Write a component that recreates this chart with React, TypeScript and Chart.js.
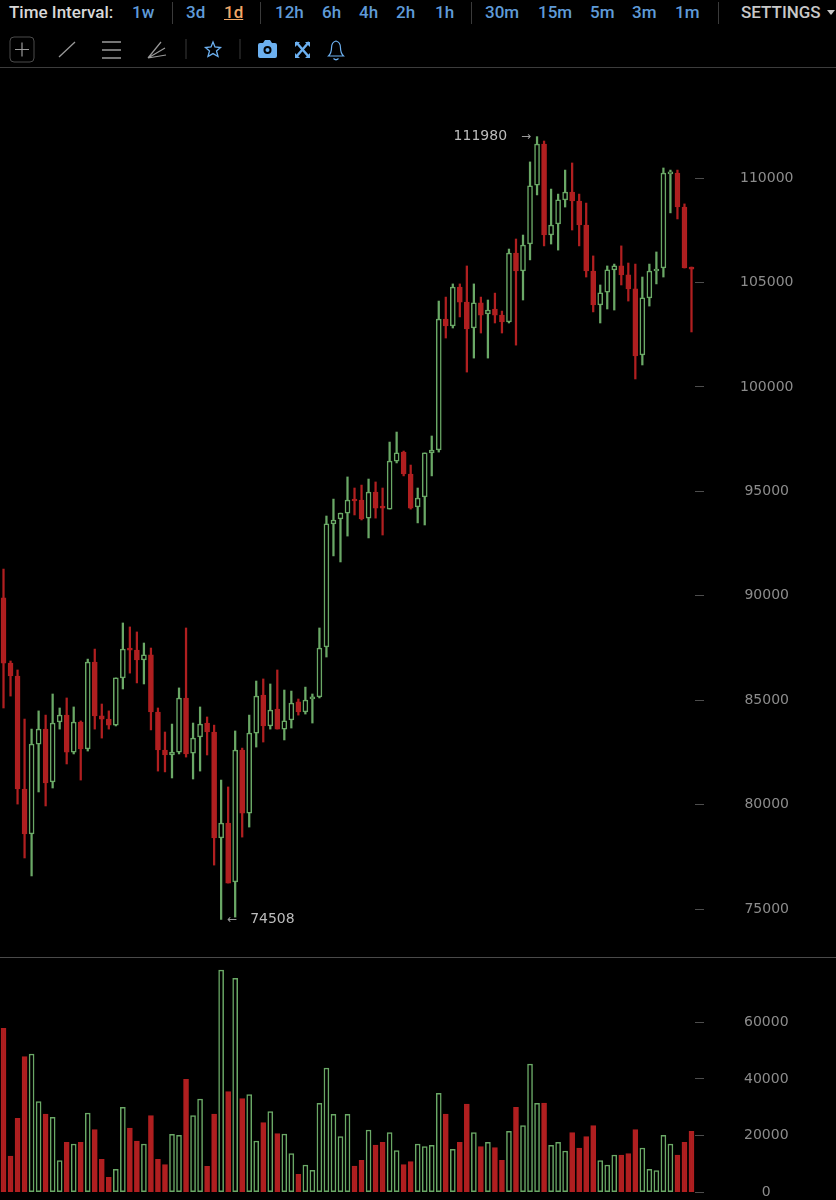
import { useEffect, useRef } from 'react';
import { Chart, registerables } from 'chart.js';

Chart.register(...registerables);

const opens = [89900,86780,86160,80750,78600,82900,83620,81090,83960,84290,82520,83960,82670,86830,84250,84100,83810,86070,87450,87400,86930,87170,84440,82620,82380,82520,85110,82470,83240,83910,83480,78410,79120,76300,82620,79600,83430,85250,83770,84580,83620,84060,84920,84440,85060,85160,87550,93440,93680,93960,94580,94580,93720,94970,94250,94150,96450,96880,95830,94250,94730,96840,96980,103250,102920,104780,104060,102820,104020,103490,103730,103440,103110,106410,105550,106840,109660,111630,107270,107800,108950,109330,108900,107750,105550,103920,104540,105600,105790,105360,104690,101530,104260,105550,105690,110200,110240,108610,105690];
const highs = [91280,86880,86450,84100,83620,84490,84290,85300,84630,85110,84680,84010,86970,87450,84820,84490,86070,88700,88510,88270,87740,87500,84630,83480,83860,85590,88460,83910,84680,84200,83810,81180,80850,83530,82710,84290,85920,86020,85780,86450,85490,85440,85060,85630,85300,88460,93820,94630,93960,95690,95160,95300,95590,95450,95160,97360,97840,96930,96260,95160,96840,97650,104110,104300,104930,104930,105790,104930,104300,104160,104490,103630,106600,107080,107270,110770,111980,111770,109470,109230,110380,110720,109230,108800,106270,104880,105790,105880,106750,105930,105880,105260,105880,106460,110480,110380,110380,108760,105740];
const lows = [84630,85200,80030,77450,76590,80610,79940,80800,83620,81950,82430,81180,82570,83620,83190,83620,83770,85540,86300,85830,85780,83580,81610,81570,81280,82430,82280,81230,81610,82380,77110,74508,76250,74620,78450,78930,82760,83000,83620,83620,83100,83670,84290,84340,83910,85110,87070,91910,91620,92860,93870,93630,92770,93720,92910,94150,96360,95740,94150,93490,93390,95740,96880,102340,102820,103350,100710,101380,102580,101380,103060,102580,103060,102000,104160,106080,109190,106750,106840,106550,108610,107510,106750,105260,103590,103060,103730,103680,104880,104110,100380,101050,103870,104930,105260,108330,108040,105690,102630];
const closes = [86780,86160,80750,78600,82900,83620,81040,83910,84290,82520,83960,82670,86830,84250,84100,83810,86070,87450,87400,86930,87170,84440,82620,82380,82520,85110,82430,83190,83860,83480,78410,79120,76250,82620,79600,83430,85200,83770,84530,83620,84010,84870,84440,85010,85160,87500,93440,93630,93960,94580,94540,93680,94970,94200,94200,96450,96840,95830,94200,94680,96840,96980,103250,102920,104780,104060,102770,104020,103440,103680,103440,103110,106410,105550,106790,109620,111630,107270,107750,108950,109330,108900,107750,105550,103920,104500,105600,105790,105360,104690,101480,104260,105550,105640,110240,110240,108610,105690,105640];
const volumes = [57860,12820,26100,47860,48800,31990,27640,26460,11170,17640,17050,17640,27990,22110,11640,5290,8110,29990,22700,18110,17050,27050,11640,9760,20460,20110,39870,27050,32930,9170,27640,78440,35520,75500,33050,34460,18110,24580,28460,20700,20580,13640,6350,9640,7760,31400,43860,27520,19640,27520,9290,11290,21990,16700,17640,21050,14700,9760,10820,17050,16110,16580,34930,27640,15170,17640,31160,21050,16110,17640,15760,11290,21520,29990,23520,45280,31400,31520,16580,17640,14580,21050,15640,19640,23520,11170,9640,13170,13170,13640,22110,15640,8110,7640,20110,17050,13170,17640,21520];

const priceTicks = [75000, 80000, 85000, 90000, 95000, 100000, 105000, 110000];
const volumeTicks = [0, 20000, 40000, 60000];
const highLabel = 111980;
const lowLabel = 74508;

const intervals = [
  { text: '1w', x: 132 },
  { text: '3d', x: 186 },
  { text: '1d', x: 224, active: true },
  { text: '12h', x: 275 },
  { text: '6h', x: 322 },
  { text: '4h', x: 359 },
  { text: '2h', x: 396 },
  { text: '1h', x: 435 },
  { text: '30m', x: 485 },
  { text: '15m', x: 538 },
  { text: '5m', x: 590 },
  { text: '3m', x: 632 },
  { text: '1m', x: 675 },
];
const dividers = [172, 260, 471, 718];

const UP = '#6aa866';
const DOWN = '#b01f20';
const AXIS_WIDTH = 141;
const TICK_COLOR = '#4d4d4d';
const LABEL_COLOR = '#8c8c8c';
const LABEL_FONT = { family: '"DejaVu Sans"', size: 14 };

const days = opens.map((_, i) => String(i));
const isUp = closes.map((c, i) => c >= opens[i]);

// the axis labels must not push the plot area in, both panels share one x layout
const fitAxis = (scale: any) => {
  scale.width = AXIS_WIDTH;
  scale.paddingTop = 0;
  scale.paddingBottom = 0;
};

const extremesPlugin = {
  id: 'extremes',
  afterDatasetsDraw(chart: any) {
    const { ctx, scales } = chart;
    ctx.save();
    ctx.fillStyle = '#bcbcbc';
    ctx.font = '14px "DejaVu Sans"';
    ctx.textBaseline = 'middle';
    const hiY = scales.y.getPixelForValue(highLabel);
    const loY = scales.y.getPixelForValue(lowLabel);
    const hiX = scales.x.getPixelForValue(76);
    const loX = scales.x.getPixelForValue(31);
    ctx.textAlign = 'right';
    ctx.fillText(String(highLabel), hiX - 30, hiY);
    ctx.font = '12px "DejaVu Sans"';
    ctx.fillStyle = '#9a9a9a';
    ctx.fillText('\u2192', hiX - 6, hiY);
    ctx.textAlign = 'left';
    ctx.fillText('\u2190', loX + 6, loY);
    ctx.font = '14px "DejaVu Sans"';
    ctx.fillStyle = '#bcbcbc';
    ctx.fillText(String(lowLabel), loX + 29, loY);
    ctx.restore();
  },
};

function Header() {
  const blue = '#6cb0f0';
  const grey = '#9a9a9a';
  return (
    <div style={{ position: 'absolute', left: 0, top: 0, width: 836, height: 68, borderBottom: '1px solid #3c3c3c', boxSizing: 'border-box', fontFamily: 'Roboto', fontSize: 17, fontWeight: 500 }}>
      <span style={{ position: 'absolute', left: 9, top: 2, color: '#d8d8d8', lineHeight: '20px' }}>Time Interval:</span>
      {intervals.map((it) => (
        <span
          key={it.text}
          style={{
            position: 'absolute',
            left: it.x,
            top: 2,
            lineHeight: '20px',
            color: it.active ? '#f0a868' : '#5f9bd8',
            textDecoration: it.active ? 'underline' : 'none',
          }}
        >
          {it.text}
        </span>
      ))}
      {dividers.map((x) => (
        <div key={x} style={{ position: 'absolute', left: x, top: 2, width: 1, height: 22, background: '#3a3a3a' }} />
      ))}
      <span style={{ position: 'absolute', left: 741, top: 2, color: '#c8c8c8', lineHeight: '20px' }}>SETTINGS</span>
      <svg style={{ position: 'absolute', left: 827, top: 10 }} width={9} height={6}>
        <path d="M0 0 L8 0 L4 5 Z" fill="#c8c8c8" />
      </svg>
      <svg style={{ position: 'absolute', left: 0, top: 30 }} width={350} height={36} fill="none">
        <rect x={10} y={7} width={24} height={25} rx={4} stroke="#4a4a4a" />
        <path d="M15 19.5 H29 M22 12.5 V26.5" stroke={grey} strokeWidth={1.2} />
        <path d="M59 27 L75 12" stroke={grey} strokeWidth={1.3} />
        <path d="M102 12 H121 M102 20 H121 M102 28 H121" stroke={grey} strokeWidth={1.3} />
        <path d="M148 28 L161 12 M148 28 L165 18 M148 28 L166 25" stroke={grey} strokeWidth={1.2} />
        <path d="M186 9 V29 M240 9 V29" stroke="#3a3a3a" />
        <path d="M213 12 L215 17 L220.5 17.5 L216.5 21 L218 26.5 L213 23.6 L208 26.5 L209.5 21 L205.5 17.5 L211 17 Z" stroke={blue} strokeWidth={1.3} />
        <path d="M258 15 Q258 13 260 13 L263 13 L265 10 L270 10 L272 13 L275 13 Q277 13 277 15 L277 26 Q277 28 275 28 L260 28 Q258 28 258 26 Z" fill={blue} />
        <circle cx={267.5} cy={20} r={4} fill="#000" />
        <circle cx={267.5} cy={20} r={2} fill={blue} />
        <path d="M296 12 L309 27 M309 12 L296 27" stroke={blue} strokeWidth={2.4} />
        <path d="M295 12 H300 L295 17 Z M310 12 H305 L310 17 Z M295 28 H300 L295 23 Z M310 28 H305 L310 23 Z" fill={blue} />
        <path d="M328.5 26 Q331.5 23 331.5 18 Q331.5 12 336 11 Q340.5 12 340.5 18 Q340.5 23 343.5 26 Z M333.5 28.5 Q336 31 338.5 28.5" stroke={blue} strokeWidth={1.2} />
      </svg>
    </div>
  );
}

export default function App() {
  const priceRef = useRef<HTMLCanvasElement>(null);
  const volumeRef = useRef<HTMLCanvasElement>(null);

  useEffect(() => {
    if (!priceRef.current || !volumeRef.current) return;

    const priceChart = new Chart(priceRef.current, {
      type: 'bar',
      plugins: [extremesPlugin],
      data: {
        labels: days,
        datasets: [
          {
            // candle bodies
            data: opens.map((o, i) => [o, closes[i]]) as any,
            order: 1,
            grouped: false,
            barThickness: 5,
            minBarLength: 2,
            borderWidth: 1.5,
            borderSkipped: false,
            backgroundColor: isUp.map((u) => (u ? '#000000' : DOWN)),
            borderColor: isUp.map((u) => (u ? UP : DOWN)),
          },
          {
            // wicks
            data: lows.map((l, i) => [l, highs[i]]) as any,
            order: 2,
            grouped: false,
            barThickness: 1.6,
            backgroundColor: isUp.map((u) => (u ? UP : DOWN)),
          },
        ],
      },
      options: {
        responsive: false,
        animation: false,
        events: [],
        layout: { padding: 0 },
        plugins: { legend: { display: false }, tooltip: { enabled: false } },
        scales: {
          x: { display: false },
          y: {
            position: 'right',
            min: 72662,
            max: 115266,
            afterFit: fitAxis,
            afterBuildTicks: (scale: any) => {
              scale.ticks = priceTicks.map((value) => ({ value }));
            },
            border: { display: false },
            grid: { drawOnChartArea: false, tickLength: 9, tickColor: TICK_COLOR, tickWidth: 1 },
            ticks: { color: LABEL_COLOR, font: LABEL_FONT, padding: 36, crossAlign: 'center', callback: (v: any) => String(v) },
          },
        },
      },
    });

    const volumeChart = new Chart(volumeRef.current, {
      type: 'bar',
      data: {
        labels: days,
        datasets: [
          {
            data: volumes,
            barThickness: 5,
            borderWidth: 1.5,
            borderSkipped: false,
            backgroundColor: isUp.map((u) => (u ? '#000000' : DOWN)),
            borderColor: isUp.map((u) => (u ? UP : DOWN)),
          },
        ],
      },
      options: {
        responsive: false,
        animation: false,
        events: [],
        layout: { padding: 0 },
        plugins: { legend: { display: false }, tooltip: { enabled: false } },
        scales: {
          x: { display: false },
          y: {
            position: 'right',
            min: -2720,
            max: 82700,
            afterFit: fitAxis,
            afterBuildTicks: (scale: any) => {
              scale.ticks = volumeTicks.map((value) => ({ value }));
            },
            border: { display: false },
            grid: { drawOnChartArea: false, tickLength: 9, tickColor: TICK_COLOR, tickWidth: 1 },
            ticks: { color: LABEL_COLOR, font: LABEL_FONT, padding: 40, crossAlign: 'center', callback: (v: any) => String(v) },
          },
        },
      },
    });

    return () => {
      priceChart.destroy();
      volumeChart.destroy();
    };
  }, []);

  return (
    <div style={{ position: 'absolute', left: 0, top: 0, width: 836, height: 1200, background: '#000', overflow: 'hidden' }}>
      <Header />
      <canvas ref={priceRef} width={836} height={890} style={{ position: 'absolute', left: 0, top: 68 }} />
      <div style={{ position: 'absolute', left: 0, top: 957, width: 836, height: 1, background: '#4a4a4a' }} />
      <canvas ref={volumeRef} width={836} height={242} style={{ position: 'absolute', left: 0, top: 958 }} />
    </div>
  );
}
